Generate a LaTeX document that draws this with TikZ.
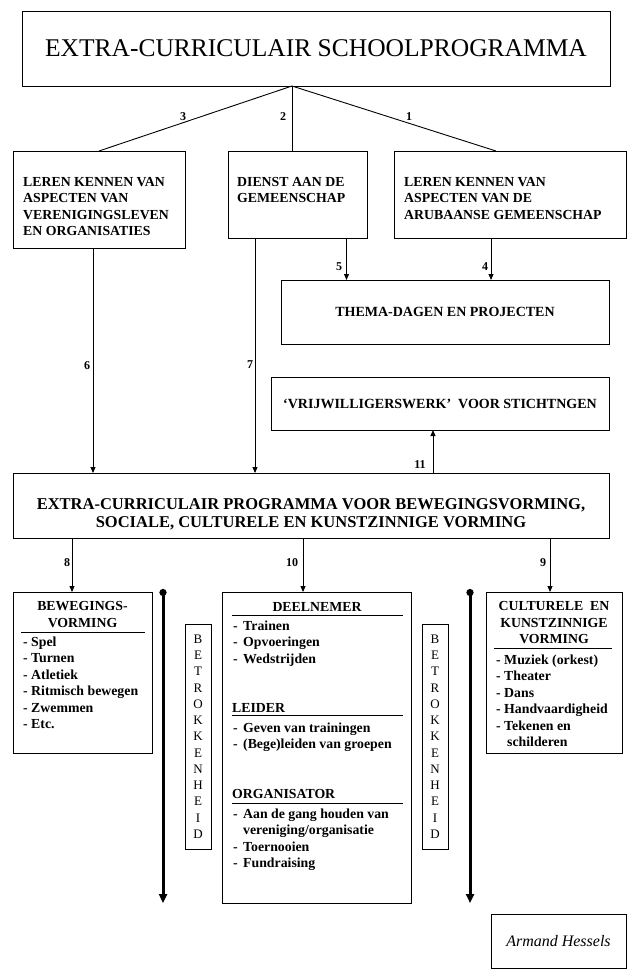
\documentclass[tikz,border=0pt]{standalone}
\usepackage{fontspec}
\setmainfont{Liberation Serif}
\usetikzlibrary{calc,positioning,arrows.meta}

\newcommand\dashit{\makebox[10pt][l]{-}}

\tikzset{
  box/.style={draw, line width=1pt, anchor=north west, inner sep=0pt, outer sep=0pt},
  body/.style={font=\bfseries\fontsize{13.8}{16.5}\selectfont, align=left, anchor=north west, inner sep=0pt},
  head/.style={font=\bfseries\fontsize{13.8}{16.5}\selectfont, align=center, anchor=north, inner sep=0pt},
  lbl/.style={font=\bfseries\fontsize{12}{12}\selectfont, inner sep=0pt},
  link/.style={line width=0.9pt},
  arr/.style={line width=0.9pt, -{Triangle[length=6pt,width=5pt]}},
  axis/.style={line width=3pt, {Circle[length=7pt]}-{Triangle[length=9pt,width=8pt]}},
  betrok/.style={box, minimum width=26pt, minimum height=225pt, align=center, font=\fontsize{13}{16.25}\selectfont},
}

\begin{document}
\begin{tikzpicture}[x=1pt,y=-1pt]
  \useasboundingbox (0,0) rectangle (634,978);

  % top level
  \node[box, minimum width=588pt, minimum height=75pt, font=\fontsize{25.5}{30}\selectfont] (title) at (22,11) {EXTRA-CURRICULAIR SCHOOLPROGRAMMA};
  \coordinate (apex) at (292,86);

  \node[box, minimum width=172pt, minimum height=97pt] (verenig) at (13,151) {};
  \node[box, minimum width=138.5pt, minimum height=87pt] (dienst) at (228.5,151) {};
  \node[box, minimum width=232pt, minimum height=87pt] (aruba) at (394,151) {};

  \node[body] (verenigtxt) at (23,177) {LEREN KENNEN VAN\\ASPECTEN VAN\\VERENIGINGSLEVEN\\EN ORGANISATIES};
  \node[body] (diensttxt) at (237,177) {DIENST AAN DE\\GEMEENSCHAP};
  \node[body] (arubatxt) at (404,177) {LEREN KENNEN VAN\\ASPECTEN VAN DE\\ARUBAANSE GEMEENSCHAP};

  \draw[link] (apex) -- (verenig.north);
  \draw[link] (apex) -- (apex |- dienst.north);
  \draw[link] (apex) -- ($(aruba.north)+(-14,0)$);
  \node[lbl] (n3) at (183,117) {3};
  \node[lbl] (n2) at (283,117) {2};
  \node[lbl] (n1) at (409,117) {1};

  % thema-dagen and vrijwilligerswerk
  \node[box, minimum width=328pt, minimum height=64pt, font=\bfseries\fontsize{14}{16}\selectfont] (thema) at (281,280) {THEMA-DAGEN EN PROJECTEN};
  \node[box, minimum width=338pt, minimum height=53pt, font=\bfseries\fontsize{14}{16}\selectfont] (vrij) at (271,377) {‘VRIJWILLIGERSWERK’\hspace{0.5em}VOOR STICHTNGEN};

  \draw[arr] (346.5,0 |- dienst.south) -- (346.5,0 |- thema.north);
  \draw[arr] (491,0 |- aruba.south) -- (491,0 |- thema.north);
  \node[lbl] (n5) at (339,267) {5};
  \node[lbl] (n4) at (485,267) {4};

  % programma
  \node[box, minimum width=596pt, minimum height=65pt] (prog) at (13,473) {};
  \node[font=\bfseries\fontsize{16.5}{18}\selectfont, align=center, inner sep=0pt] (progtxt) at (311,514) {EXTRA-CURRICULAIR PROGRAMMA VOOR BEWEGINGSVORMING,\\SOCIALE, CULTURELE EN KUNSTZINNIGE VORMING};

  \draw[arr] (93,0 |- verenig.south) -- (93,0 |- prog.north);
  \draw[arr] (255,0 |- dienst.south) -- (255,0 |- prog.north);
  \draw[arr] (433,0 |- prog.north) -- (433,0 |- vrij.south);
  \node[lbl] (n6) at (87,366) {6};
  \node[lbl] (n7) at (250,365) {7};
  \node[lbl] (n11) at (420,465) {11};

  % vormingen
  \node[box, minimum width=139pt, minimum height=161pt] (beweg) at (13,592) {};
  \node[box, minimum width=189pt, minimum height=311pt] (deel) at (222,592) {};
  \node[box, minimum width=136pt, minimum height=161pt] (cult) at (486,592) {};

  \draw[arr] (72,0 |- prog.south) -- (72,0 |- beweg.north);
  \draw[arr] (303,0 |- prog.south) -- (303,0 |- deel.north);
  \draw[arr] (550,0 |- prog.south) -- (550,0 |- cult.north);
  \node[lbl] (n8) at (67,563) {8};
  \node[lbl] (n10) at (292,563) {10};
  \node[lbl] (n9) at (543,563) {9};

  \node[head] (bewegkop) at (82.5,601.5) {BEWEGINGS-\\VORMING};
  \draw[link] (21,632) -- (145,632);
  \node[body] (bewegtxt) at (23,636.5) {- Spel\\- Turnen\\- Atletiek\\- Ritmisch bewegen\\- Zwemmen\\- Etc.};

  \node[head] (deelkop) at (317,602.5) {DEELNEMER};
  \draw[link] (232,615) -- (403,615);
  \node[body] (deeltxt) at (233,620.5) {\dashit Trainen\\\dashit Opvoeringen\\\dashit Wedstrijden};
  \node[body] (leiderkop) at (232,703.5) {LEIDER};
  \draw[link] (232,715) -- (403,715);
  \node[body] (leidertxt) at (233,722.5) {\dashit Geven van trainingen\\\dashit (Bege)leiden van groepen};
  \node[body] (orgkop) at (232,789.5) {ORGANISATOR};
  \draw[link] (232,803) -- (403,803);
  \node[body] (orgtxt) at (233,808.5) {\dashit Aan de gang houden van\\\hspace*{10pt}vereniging/organisatie\\\dashit Toernooien\\\dashit Fundraising};

  \node[head] (cultkop) at (554,601.5) {CULTURELE\hspace{0.5em}EN\\KUNSTZINNIGE\\VORMING};
  \draw[link] (494,648) -- (612,648);
  \node[body] (culttxt) at (496,654.5) {- Muziek (orkest)\\- Theater\\- Dans\\- Handvaardigheid\\- Tekenen en\\\hspace*{11pt}schilderen};

  % betrokkenheid
  \coordinate (axisLtop) at (163,589);
  \coordinate (axisLbot) at (163,903);
  \coordinate (axisRtop) at (470,589);
  \coordinate (axisRbot) at (470,903);
  \draw[axis] (axisLtop) -- (axisLbot);
  \draw[axis] (axisRtop) -- (axisRbot);
  \node[betrok] (betrokL) at (185,624) {B\\E\\T\\R\\O\\K\\K\\E\\N\\H\\E\\I\\D};
  \node[betrok] (betrokR) at (422,624) {B\\E\\T\\R\\O\\K\\K\\E\\N\\H\\E\\I\\D};

  \node[box, minimum width=135pt, minimum height=54pt, font=\itshape\fontsize{16}{16}\selectfont] (sign) at (491,914) {Armand Hessels};
\end{tikzpicture}
\end{document}
